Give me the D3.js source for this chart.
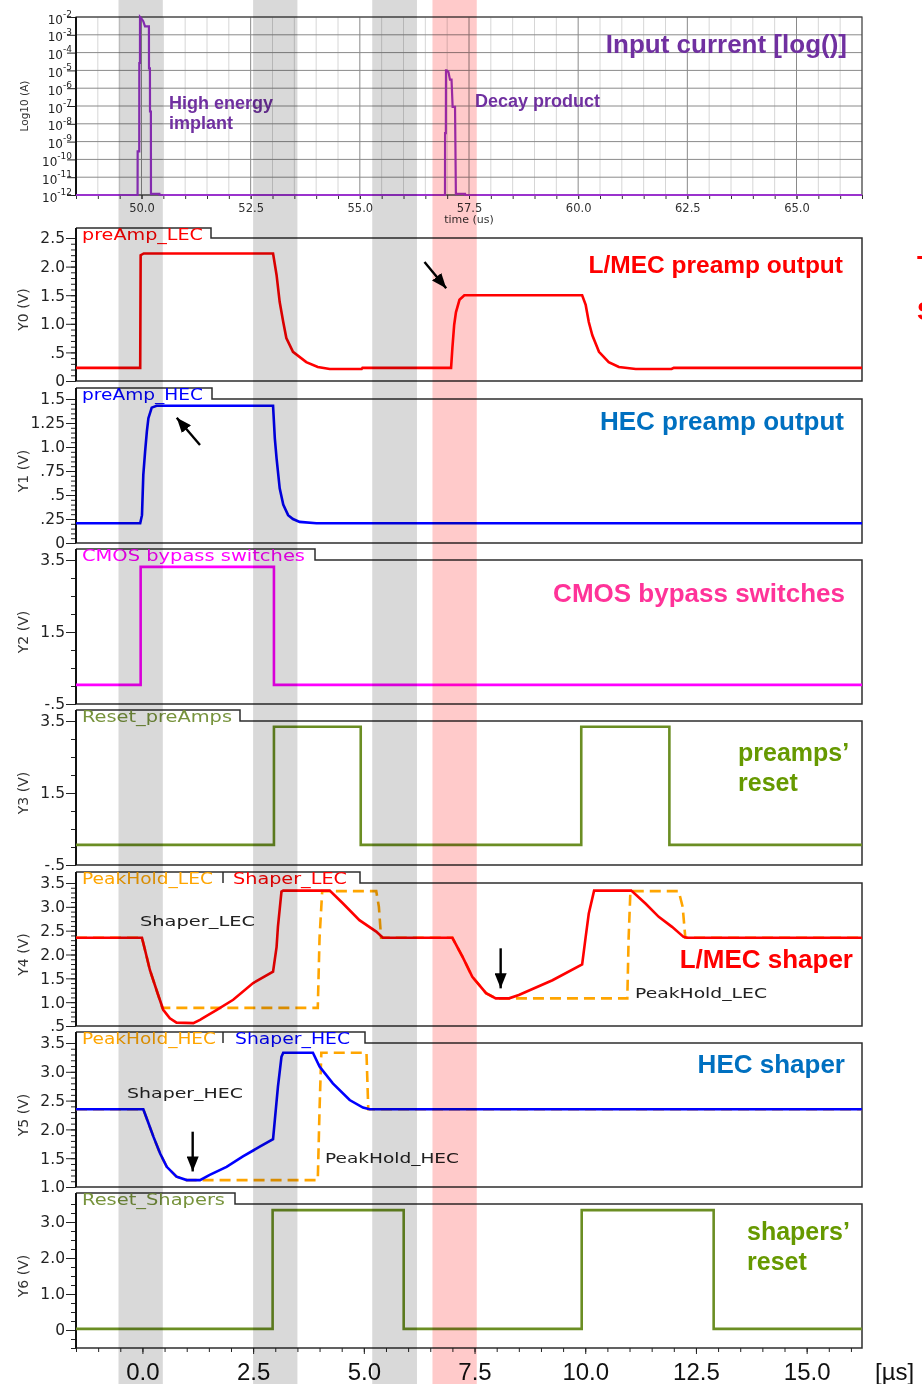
<!DOCTYPE html>
<html>
<head>
<meta charset="utf-8">
<script src="https://cdn.jsdelivr.net/npm/d3@7"></script>
<style>
	body { margin: 0; background: #ffffff; }
	text { font-family: "DejaVu Sans", Verdana, sans-serif; }
	.big { font-family: "Liberation Sans", Arial, sans-serif; font-weight: bold; }
	.band { mix-blend-mode: multiply; }
</style>
</head>
<body>
<div id="chart"></div>
<script>

///////////////////////////////////////////////////////////////////////////
///////////////////////////////// Data ////////////////////////////////////
///////////////////////////////////////////////////////////////////////////

var topTimeTicks = [50, 52.5, 55, 57.5, 60, 62.5, 65];
var timeTicks = [0, 2.5, 5, 7.5, 10, 12.5, 15];
var logExponents = [-2, -3, -4, -5, -6, -7, -8, -9, -10, -11, -12];

var y0Ticks = [0, 0.5, 1, 1.5, 2, 2.5];
var y1Ticks = [0, 0.25, 0.5, 0.75, 1, 1.25, 1.5];
var y2Ticks = [-0.5, 1.5, 3.5];
var y3Ticks = [-0.5, 1.5, 3.5];
var y4Ticks = [0.5, 1, 1.5, 2, 2.5, 3, 3.5];
var y5Ticks = [1, 1.5, 2, 2.5, 3, 3.5];
var y6Ticks = [0, 1, 2, 3];

//Windows in us (grey = reset/settle, pink = decay product)
var greyBands = [[-0.54, 0.46], [2.5, 3.5], [5.19, 6.2]];
var decayBand = [6.55, 7.55];

//Input current: [time (us), current (A)]
var inputCurrent = [
	[48.5, 1e-12], [49.91, 1e-12], [49.912, 2.8e-10], [49.948, 2.8e-10], [49.95, 2.6e-5],
	[49.965, 2.6e-5], [49.966, 1e-2], [50.0, 8e-3], [50.04, 5.8e-3], [50.08, 3e-3],
	[50.17, 3e-3], [50.172, 1.3e-5], [50.193, 1.3e-5], [50.195, 4.9e-8], [50.215, 4.9e-8],
	[50.217, 1e-12], [50.22, 1.15e-12], [50.41, 1.15e-12], [50.412, 1e-12],
	[56.95, 1e-12], [56.952, 3e-9], [56.97, 3e-9], [56.973, 1e-5], [56.99, 1e-5],
	[57.03, 8e-6], [57.064, 3e-6], [57.1, 3e-6], [57.125, 9e-8], [57.18, 9e-8],
	[57.2, 1e-12], [57.21, 1.15e-12], [57.41, 1.15e-12], [57.412, 1e-12], [66.5, 1e-12]
];

//Signals: [time (us), volts]
var preAmpLEC = [
	[-1.5, 0.23], [-0.05, 0.23], [-0.04, 2.2], [0.03, 2.23], [2.95, 2.23], [3.03, 1.85],
	[3.10, 1.38], [3.18, 1.03], [3.25, 0.75], [3.40, 0.51], [3.70, 0.33], [3.96, 0.245],
	[4.23, 0.21], [4.95, 0.21], [4.97, 0.23], [6.97, 0.23], [7.00, 0.58], [7.04, 0.98],
	[7.08, 1.20], [7.16, 1.42], [7.27, 1.50], [9.93, 1.50], [10.01, 1.33], [10.08, 1.03],
	[10.16, 0.80], [10.31, 0.51], [10.53, 0.33], [10.76, 0.245], [11.14, 0.21],
	[11.95, 0.21], [12.0, 0.23], [16.25, 0.23]
];
var preAmpHEC = [
	[-1.5, 0.205], [-0.05, 0.205], [-0.01, 0.29], [0.02, 0.71], [0.06, 0.95], [0.10, 1.16],
	[0.135, 1.30], [0.21, 1.41], [0.32, 1.43], [2.95, 1.43], [2.99, 1.09], [3.03, 0.88],
	[3.10, 0.57], [3.18, 0.40], [3.29, 0.29], [3.40, 0.25], [3.55, 0.22], [3.93, 0.205],
	[16.25, 0.205]
];
var cmosBypass = [
	[-1.5, 0.03], [-0.04, 0.03], [-0.04, 3.31], [2.97, 3.31], [2.97, 0.03], [16.25, 0.03]
];
var resetPreAmps = [
	[-1.5, 0.06], [2.97, 0.06], [2.97, 3.34], [4.93, 3.34], [4.93, 0.06], [9.91, 0.06],
	[9.91, 3.34], [11.9, 3.34], [11.9, 0.06], [16.25, 0.06]
];
var shaperLEC = [
	[-1.5, 2.35], [-0.01, 2.35], [0.06, 2.09], [0.17, 1.67], [0.32, 1.25], [0.47, 0.84],
	[0.62, 0.66], [0.77, 0.57], [1.15, 0.56], [1.30, 0.63], [1.68, 0.84], [2.05, 1.05],
	[2.50, 1.40], [2.95, 1.64], [3.03, 2.16], [3.06, 2.58], [3.14, 3.32], [3.18, 3.34],
	[4.23, 3.34], [4.53, 3.07], [4.90, 2.72], [5.28, 2.48], [5.43, 2.35], [7.00, 2.35],
	[7.23, 1.95], [7.45, 1.53], [7.76, 1.19], [7.98, 1.08], [8.28, 1.08], [8.50, 1.15],
	[9.26, 1.46], [9.93, 1.79], [10.01, 2.37], [10.08, 2.86], [10.20, 3.34], [11.04, 3.34],
	[11.36, 3.07], [11.66, 2.79], [11.96, 2.58], [12.22, 2.37], [12.3, 2.35], [16.25, 2.35]
];
var peakHoldLEC = [
	[-1.5, 2.35], [-0.01, 2.35], [0.06, 2.09], [0.17, 1.67], [0.32, 1.25], [0.45, 0.88],
	[3.96, 0.88], [4.0, 2.35], [4.06, 3.33], [5.28, 3.33], [5.34, 3.0], [5.39, 2.35],
	[7.0, 2.35], [7.23, 1.95], [7.45, 1.53], [7.76, 1.19], [7.98, 1.08], [10.95, 1.08],
	[10.98, 2.35], [11.02, 3.33], [12.11, 3.33], [12.2, 3.0], [12.26, 2.35], [16.25, 2.35]
];
var shaperHEC = [
	[-1.5, 2.35], [0.02, 2.35], [0.135, 2.11], [0.25, 1.87], [0.40, 1.58], [0.55, 1.35],
	[0.77, 1.18], [1.0, 1.12], [1.30, 1.12], [1.52, 1.21], [1.90, 1.35], [2.27, 1.53],
	[2.65, 1.70], [2.95, 1.83], [2.99, 2.16], [3.06, 2.74], [3.14, 3.26], [3.18, 3.33],
	[3.85, 3.33], [4.0, 3.09], [4.30, 2.80], [4.68, 2.51], [4.98, 2.38], [5.13, 2.35],
	[16.25, 2.35]
];
var peakHoldHEC = [
	[-1.5, 2.35], [0.02, 2.35], [0.135, 2.11], [0.25, 1.87], [0.40, 1.58], [0.55, 1.35],
	[0.77, 1.18], [1.0, 1.12], [3.96, 1.12], [4.0, 2.35], [4.04, 3.33], [5.06, 3.33],
	[5.1, 2.35], [16.25, 2.35]
];
var resetShapers = [
	[-1.5, 0.03], [2.94, 0.03], [2.94, 3.33], [5.9, 3.33], [5.9, 0.03], [9.92, 0.03],
	[9.92, 3.33], [12.9, 3.33], [12.9, 0.03], [16.25, 0.03]
];

//Arrows: panel index, tail and tip in [time, volts]
var arrows = [
	{ panel: 0, from: [6.37, 2.08], to: [6.86, 1.62] },
	{ panel: 1, from: [1.30, 1.02], to: [0.775, 1.305] },
	{ panel: 4, from: [8.09, 2.13], to: [8.09, 1.29] },
	{ panel: 5, from: [1.135, 1.96], to: [1.135, 1.27] }
];

///////////////////////////////////////////////////////////////////////////
//////////////////// Set up and initiate svg containers ///////////////////
///////////////////////////////////////////////////////////////////////////

var W = 922, H = 1384;
var plotLeft = 76, plotRight = 862;

var red = "#ff0000", blue = "#0000ff", magenta = "#ff00ff", green = "#6b8e23",
	orange = "#ffa500", purpleLine = "#9a32cd", purpleText = "#7030a0",
	titleBlue = "#0070c0", titlePink = "#ff3399", titleGreen = "#669900", tabGreen = "#77933c";

var svg = d3.select("#chart").append("svg")
	.attr("width", W)
	.attr("height", H);

svg.append("defs").append("marker")
	.attr("id", "arrowHead")
	.attr("markerUnits", "userSpaceOnUse")
	.attr("markerWidth", 15).attr("markerHeight", 12)
	.attr("refX", 15).attr("refY", 6)
	.attr("orient", "auto")
	.append("path")
	.attr("d", "M0,0L15,6L0,12Z")
	.style("fill", "#000");

//time scales (the top plot has its own absolute time)
var x = d3.scaleLinear().domain([-1.5, 16.25]).range([plotLeft, plotRight]);
var xTop = d3.scaleLinear().domain([48.5, 66.5]).range([plotLeft, plotRight]);

///////////////////////////////////////////////////////////////////////////
//////////////////////////// Input current plot ///////////////////////////
///////////////////////////////////////////////////////////////////////////

var topY0 = 17, topY1 = 195;
var yLog = d3.scaleLog().domain([1e-12, 1e-2]).range([topY1, topY0]);
var inputG = svg.append("g").attr("class", "inputPanel");

//vertical grid
inputG.append("g").selectAll("line")
	.data(d3.range(48.5, 66.51, 0.5))
	.enter().append("line")
	.attr("x1", function(d) { return xTop(d); })
	.attr("x2", function(d) { return xTop(d); })
	.attr("y1", topY0).attr("y2", topY1)
	.style("stroke", function(d) { return (d % 2.5 === 0) ? "#8a8a8a" : "#d6d6d6"; })
	.style("stroke-width", 1);

//horizontal grid
inputG.append("g").selectAll("line")
	.data(logExponents)
	.enter().append("line")
	.attr("x1", plotLeft).attr("x2", plotRight)
	.attr("y1", function(d) { return yLog(Math.pow(10, d)); })
	.attr("y2", function(d) { return yLog(Math.pow(10, d)); })
	.style("stroke", "#8a8a8a")
	.style("stroke-width", 1);

inputG.append("rect")
	.attr("x", plotLeft).attr("y", topY0)
	.attr("width", plotRight - plotLeft).attr("height", topY1 - topY0)
	.style("fill", "none").style("stroke", "#444").style("stroke-width", 1.2);

//x axis
var topXAxis = inputG.append("g")
	.attr("transform", "translate(0," + topY1 + ")")
	.call(d3.axisBottom(xTop).tickValues(d3.range(48.5, 66.51, 0.5)).tickSize(4).tickFormat(""));
topXAxis.select(".domain").remove();
topXAxis.selectAll("line").style("stroke", "#333");

var topXLabels = inputG.append("g")
	.attr("transform", "translate(0," + topY1 + ")")
	.call(d3.axisBottom(xTop).tickValues(topTimeTicks).tickSize(4).tickFormat(d3.format(".1f")));
topXLabels.select(".domain").remove();
topXLabels.selectAll("line").style("stroke", "#333");
topXLabels.selectAll("text").attr("y", 9).style("font-size", "11.5px").style("fill", "#333");

inputG.append("text")
	.attr("x", xTop(57.5)).attr("y", 222.5)
	.attr("text-anchor", "middle")
	.style("font-size", "11px").style("fill", "#333")
	.text("time (us)");

//log y axis
var logAxis = inputG.append("g")
	.attr("transform", "translate(" + plotLeft + ",0)")
	.call(d3.axisLeft(yLog)
		.tickValues(logExponents.map(function(e) { return Math.pow(10, e); }))
		.tickSize(9).tickPadding(-5).tickSizeOuter(0).tickFormat(""));
logAxis.select(".domain").remove();
logAxis.selectAll("line").style("stroke", "#222");
logAxis.selectAll(".tick text").each(function(d) {
	var e = Math.round(Math.log10(d));
	d3.select(this)
		.attr("dy", "0.5em")
		.style("font-size", "12px").style("fill", "#222")
		.text("10")
		.append("tspan")
		.attr("dy", "-0.75em")
		.style("font-size", "9px")
		.text(e);
});

inputG.append("line")
	.attr("x1", plotLeft).attr("x2", plotLeft)
	.attr("y1", topY0).attr("y2", topY1)
	.style("stroke", "#111").style("stroke-width", 2);

inputG.append("text")
	.attr("transform", "translate(24," + (topY0 + topY1) / 2 + ") rotate(-90)")
	.attr("text-anchor", "middle").attr("dy", "0.35em")
	.style("font-size", "10.5px").style("fill", "#333")
	.text("Log10 (A)");

inputG.append("path")
	.datum(inputCurrent)
	.attr("d", d3.line()
		.x(function(d) { return xTop(d[0]); })
		.y(function(d) { return yLog(d[1]); }))
	.style("fill", "none").style("stroke", purpleLine).style("stroke-width", 2.2);

///////////////////////////////////////////////////////////////////////////
////////////////////////////// Signal panels //////////////////////////////
///////////////////////////////////////////////////////////////////////////

var panels = [
	{ name: "Y0 (V)", tabTop: 228, top: 238, bottom: 381, domain: [0, 2.5], ticks: y0Ticks, minor: 0.1,
	  tabRight: 211, tabs: [{ text: "preAmp_LEC", color: red, x: 82, width: 121 }],
	  lines: [{ data: preAmpLEC, color: red }] },
	{ name: "Y1 (V)", tabTop: 388, top: 399, bottom: 543, domain: [0, 1.5], ticks: y1Ticks, minor: 0.05,
	  tabRight: 212, tabs: [{ text: "preAmp_HEC", color: blue, x: 82, width: 121 }],
	  lines: [{ data: preAmpHEC, color: blue }] },
	{ name: "Y2 (V)", tabTop: 549, top: 560, bottom: 704, domain: [-0.5, 3.5], ticks: y2Ticks, minor: 0.5,
	  tabRight: 315, tabs: [{ text: "CMOS bypass switches", color: magenta, x: 82, width: 223 }],
	  lines: [{ data: cmosBypass, color: magenta }] },
	{ name: "Y3 (V)", tabTop: 710, top: 721, bottom: 865, domain: [-0.5, 3.5], ticks: y3Ticks, minor: 0.5,
	  tabRight: 240, tabs: [{ text: "Reset_preAmps", color: tabGreen, x: 82, width: 150 }],
	  lines: [{ data: resetPreAmps, color: green }] },
	{ name: "Y4 (V)", tabTop: 872, top: 883, bottom: 1026, domain: [0.5, 3.5], ticks: y4Ticks, minor: 0.1,
	  tabRight: 360, sep: 223,
	  tabs: [{ text: "PeakHold_LEC", color: orange, x: 82, width: 131 },
	         { text: "Shaper_LEC", color: red, x: 233, width: 114 }],
	  lines: [{ data: peakHoldLEC, color: orange, dash: "11,6" }, { data: shaperLEC, color: red }] },
	{ name: "Y5 (V)", tabTop: 1032, top: 1043, bottom: 1187, domain: [1, 3.5], ticks: y5Ticks, minor: 0.1,
	  tabRight: 365, sep: 223,
	  tabs: [{ text: "PeakHold_HEC", color: orange, x: 82, width: 134 },
	         { text: "Shaper_HEC", color: blue, x: 235, width: 115 }],
	  lines: [{ data: peakHoldHEC, color: orange, dash: "11,6" }, { data: shaperHEC, color: blue }] },
	{ name: "Y6 (V)", tabTop: 1193, top: 1204, bottom: 1348, domain: [-0.5, 3.5], ticks: y6Ticks, minor: 0.25,
	  tabRight: 235, tabs: [{ text: "Reset_Shapers", color: tabGreen, x: 82, width: 143 }],
	  lines: [{ data: resetShapers, color: green }] }
];

function fmtTick(v) {
	if (v === 0) return "0";
	var s = (Math.abs(Math.round(v * 100)) % 10 !== 0) ? v.toFixed(2) : v.toFixed(1);
	return s.replace(/^(-?)0\./, "$1.");
}

panels.forEach(function(p) {
	var y = d3.scaleLinear().domain(p.domain).range([p.bottom, p.top]);
	p.y = y;
	var g = svg.append("g").attr("class", "panel");

	//frame with the name tab
	g.append("path")
		.attr("d", "M" + plotLeft + "," + p.tabTop + "H" + p.tabRight + "V" + p.top +
			"H" + plotRight + "V" + p.bottom + "H" + plotLeft)
		.style("fill", "none").style("stroke", "#2e2e2e").style("stroke-width", 1.5);
	if (p.sep) {
		g.append("line")
			.attr("x1", p.sep).attr("x2", p.sep)
			.attr("y1", p.tabTop).attr("y2", p.top)
			.style("stroke", "#2e2e2e").style("stroke-width", 1.5);
	}

	//minor ticks
	var minorAxis = g.append("g")
		.attr("transform", "translate(" + plotLeft + ",0)")
		.call(d3.axisLeft(y).tickValues(d3.range(p.domain[0], p.domain[1] + 1e-6, p.minor)).tickSize(5).tickFormat(""));
	minorAxis.select(".domain").remove();
	minorAxis.selectAll("line").style("stroke", "#222");

	//major ticks
	var ax = g.append("g")
		.attr("transform", "translate(" + plotLeft + ",0)")
		.call(d3.axisLeft(y).tickValues(p.ticks).tickSize(10).tickPadding(1).tickFormat(fmtTick));
	ax.select(".domain").remove();
	ax.selectAll("line").style("stroke", "#222");
	ax.selectAll("text").style("font-size", "15.5px").style("fill", "#222");

	g.append("line")
		.attr("x1", plotLeft).attr("x2", plotLeft)
		.attr("y1", p.tabTop).attr("y2", p.bottom)
		.style("stroke", "#111").style("stroke-width", 2);

	g.append("text")
		.attr("transform", "translate(23," + (p.top + p.bottom) / 2 + ") rotate(-90)")
		.attr("text-anchor", "middle").attr("dy", "0.35em")
		.style("font-size", "14px").style("fill", "#333")
		.text(p.name);

	//tab labels
	g.selectAll(".tabLabel")
		.data(p.tabs)
		.enter().append("text")
		.attr("class", "tabLabel")
		.attr("x", function(d) { return d.x; })
		.attr("y", p.tabTop + 11.5)
		.attr("textLength", function(d) { return d.width; })
		.attr("lengthAdjust", "spacingAndGlyphs")
		.style("font-size", "15px")
		.style("fill", function(d) { return d.color; })
		.text(function(d) { return d.text; });

	//signal lines
	var line = d3.line()
		.x(function(d) { return x(d[0]); })
		.y(function(d) { return y(d[1]); });
	p.lines.forEach(function(s) {
		g.append("path")
			.datum(s.data)
			.attr("d", line)
			.style("fill", "none")
			.style("stroke", s.color)
			.style("stroke-width", 2.6)
			.style("stroke-dasharray", s.dash || null);
	});
});

//time axis under the last panel
var last = panels[panels.length - 1];
var xMinor = svg.append("g")
	.attr("transform", "translate(0," + last.bottom + ")")
	.call(d3.axisBottom(x).tickValues(d3.range(-1.5, 16.26, 0.5)).tickSize(4).tickFormat(""));
xMinor.select(".domain").remove();
xMinor.selectAll("line").style("stroke", "#222");

var xAxis = svg.append("g")
	.attr("transform", "translate(0," + last.bottom + ")")
	.call(d3.axisBottom(x).tickValues(timeTicks).tickSize(6).tickFormat(d3.format(".1f")));
xAxis.select(".domain").remove();
xAxis.selectAll("line").style("stroke", "#222");
xAxis.selectAll("text")
	.attr("y", 15)
	.style("font-family", "'Liberation Sans', Arial, sans-serif")
	.style("font-size", "24px").style("fill", "#111");

svg.append("text")
	.attr("x", 875).attr("y", 1380)
	.style("font-family", "'Liberation Sans', Arial, sans-serif")
	.style("font-size", "24px").style("fill", "#111")
	.text("[µs]");

///////////////////////////////////////////////////////////////////////////
////////////////////////////// Annotations ////////////////////////////////
///////////////////////////////////////////////////////////////////////////

svg.append("g").selectAll("line")
	.data(arrows)
	.enter().append("line")
	.attr("x1", function(d) { return x(d.from[0]); })
	.attr("y1", function(d) { return panels[d.panel].y(d.from[1]); })
	.attr("x2", function(d) { return x(d.to[0]); })
	.attr("y2", function(d) { return panels[d.panel].y(d.to[1]); })
	.attr("marker-end", "url(#arrowHead)")
	.style("stroke", "#000").style("stroke-width", 2.4);

var smallLabels = [
	{ text: "Shaper_LEC", x: 140, y: 926, width: 115 },
	{ text: "PeakHold_LEC", x: 635, y: 998, width: 132 },
	{ text: "Shaper_HEC", x: 127, y: 1098, width: 116 },
	{ text: "PeakHold_HEC", x: 325, y: 1163, width: 134 }
];
svg.append("g").selectAll("text")
	.data(smallLabels)
	.enter().append("text")
	.attr("x", function(d) { return d.x; })
	.attr("y", function(d) { return d.y; })
	.attr("textLength", function(d) { return d.width; })
	.attr("lengthAdjust", "spacingAndGlyphs")
	.style("font-size", "14.5px").style("fill", "#222")
	.text(function(d) { return d.text; });

var titles = [
	{ text: "Input current [log()]", x: 847, y: 53, anchor: "end", size: 26, color: purpleText },
	{ text: "High energy", x: 169, y: 109, anchor: "start", size: 18, color: purpleText },
	{ text: "implant", x: 169, y: 129, anchor: "start", size: 18, color: purpleText },
	{ text: "Decay product", x: 475, y: 107, anchor: "start", size: 18, color: purpleText },
	{ text: "L/MEC preamp output", x: 843, y: 273, anchor: "end", size: 24.5, color: red },
	{ text: "HEC preamp output", x: 844, y: 430, anchor: "end", size: 26, color: titleBlue },
	{ text: "CMOS bypass switches", x: 845, y: 602, anchor: "end", size: 26, color: titlePink },
	{ text: "preamps\u2019", x: 738, y: 761, anchor: "start", size: 25, color: titleGreen },
	{ text: "reset", x: 738, y: 791, anchor: "start", size: 25, color: titleGreen },
	{ text: "L/MEC shaper", x: 853, y: 968, anchor: "end", size: 26, color: red },
	{ text: "HEC shaper", x: 845, y: 1073, anchor: "end", size: 26, color: titleBlue },
	{ text: "shapers\u2019", x: 747, y: 1240, anchor: "start", size: 25, color: titleGreen },
	{ text: "reset", x: 747, y: 1270, anchor: "start", size: 25, color: titleGreen },
	{ text: "T", x: 917, y: 274, anchor: "start", size: 26, color: red },
	{ text: "S", x: 917, y: 320, anchor: "start", size: 26, color: red }
];
svg.append("g").selectAll("text")
	.data(titles)
	.enter().append("text")
	.attr("class", "big")
	.attr("x", function(d) { return d.x; })
	.attr("y", function(d) { return d.y; })
	.attr("text-anchor", function(d) { return d.anchor; })
	.style("font-size", function(d) { return d.size + "px"; })
	.style("fill", function(d) { return d.color; })
	.text(function(d) { return d.text; });

///////////////////////////////////////////////////////////////////////////
///////////////////////// Time windows on top /////////////////////////////
///////////////////////////////////////////////////////////////////////////

svg.append("g").selectAll("rect")
	.data(greyBands.map(function(b) { return { b: b, fill: "#d9d9d9" }; })
		.concat([{ b: decayBand, fill: "#ffcaca" }]))
	.enter().append("rect")
	.attr("class", "band")
	.attr("x", function(d) { return x(d.b[0]); })
	.attr("width", function(d) { return x(d.b[1]) - x(d.b[0]); })
	.attr("y", 0).attr("height", H)
	.style("fill", function(d) { return d.fill; });

</script>
</body>
</html>
